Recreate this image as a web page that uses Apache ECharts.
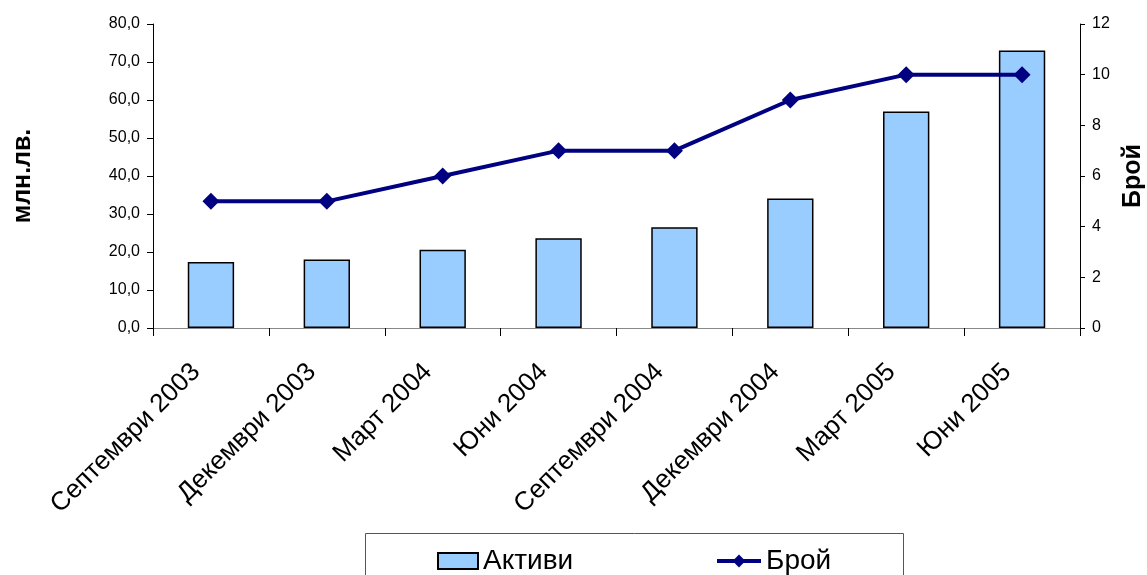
<!DOCTYPE html>
<html>
<head>
<meta charset="utf-8">
<script src="https://cdn.jsdelivr.net/npm/echarts@6/dist/echarts.min.js"></script>
<style>
  html, body { margin: 0; padding: 0; background: #fff; }
  #chart { width: 1147px; height: 575px; }
</style>
</head>
<body>
<div id="chart"></div>
<script>
var categories = ["Септември 2003", "Декември 2003", "Март 2004", "Юни 2004",
  "Септември 2004", "Декември 2004", "Март 2005", "Юни 2005"];
var aktivi = [17.4, 18.0, 20.6, 23.6, 26.5, 34.1, 57.0, 73.0]; // млн.лв.
var broi = [5, 5, 6, 7, 7, 9, 10, 10];
var leftTicks = [0, 80, 10];
var rightTicks = [0, 12, 2];

var font = "Liberation Sans, Arial, sans-serif";
var chart = echarts.init(document.getElementById("chart"));

var legendText = { fontSize: 28, color: "#000", fontFamily: font };

chart.setOption({
  animation: false,
  textStyle: { fontFamily: font, color: "#000" },
  grid: { left: 153, right: 67, top: 24, bottom: 247, outerBoundsMode: "none" },
  legend: [
    {
      left: 432, top: 542,
      itemWidth: 40, itemHeight: 16,
      textStyle: legendText,
      data: [{ name: "Активи", icon: "rect" }]
    },
    {
      left: 710, top: 542,
      itemWidth: 44, itemHeight: 16,
      textStyle: legendText,
      lineStyle: { width: 4 },
      data: [{ name: "Брой" }]
    }
  ],
  graphic: [{
    type: "rect",
    shape: { x: 365.5, y: 533.5, width: 538, height: 60 },
    style: { fill: "none", stroke: "#555", lineWidth: 1 },
    z: 0
  }],
  xAxis: [
    {
      type: "category",
      data: categories,
      axisLine: { lineStyle: { color: "#000", width: 1 } },
      axisTick: { show: true, length: 8, lineStyle: { color: "#000" } },
      axisLabel: {
        rotate: 45, fontSize: 26, color: "#000", margin: 25, interval: 0,
        padding: [0, 21, 0, 0]
      }
    },
    {
      type: "category",
      data: categories,
      position: "top",
      axisLine: { lineStyle: { color: "#888" } },
      axisTick: { show: false },
      axisLabel: { show: false }
    }
  ],
  yAxis: [
    {
      type: "value",
      min: leftTicks[0], max: leftTicks[1], interval: leftTicks[2],
      name: "млн.лв.",
      nameLocation: "middle",
      nameRotate: 90,
      nameGap: 117,
      nameTextStyle: { fontSize: 25, fontWeight: "bold", color: "#000" },
      axisLine: { show: true, lineStyle: { color: "#000" } },
      axisTick: { show: true, length: 6, lineStyle: { color: "#000" } },
      axisLabel: {
        fontSize: 16, color: "#000", margin: 13,
        formatter: function (v) { return v.toFixed(1).replace(".", ","); }
      },
      splitLine: { show: false }
    },
    {
      type: "value",
      min: rightTicks[0], max: rightTicks[1], interval: rightTicks[2],
      name: "Брой",
      nameLocation: "middle",
      nameRotate: 90,
      nameGap: 40,
      nameTextStyle: { fontSize: 25, fontWeight: "bold", color: "#000" },
      axisLine: { show: true, lineStyle: { color: "#000" } },
      axisTick: { show: true, length: 5, lineStyle: { color: "#000" } },
      axisLabel: { fontSize: 16, color: "#000", margin: 12 },
      splitLine: { show: false }
    }
  ],
  series: [
    {
      name: "Активи",
      type: "bar",
      data: aktivi,
      barWidth: "40%",
      itemStyle: { color: "#99ccff", borderColor: "#000", borderWidth: 1.5 }
    },
    {
      name: "Брой",
      type: "line",
      yAxisIndex: 1,
      data: broi,
      symbol: "diamond",
      symbolSize: 17,
      lineStyle: { color: "#000080", width: 4 },
      itemStyle: { color: "#000080" }
    }
  ]
});
</script>
</body>
</html>
